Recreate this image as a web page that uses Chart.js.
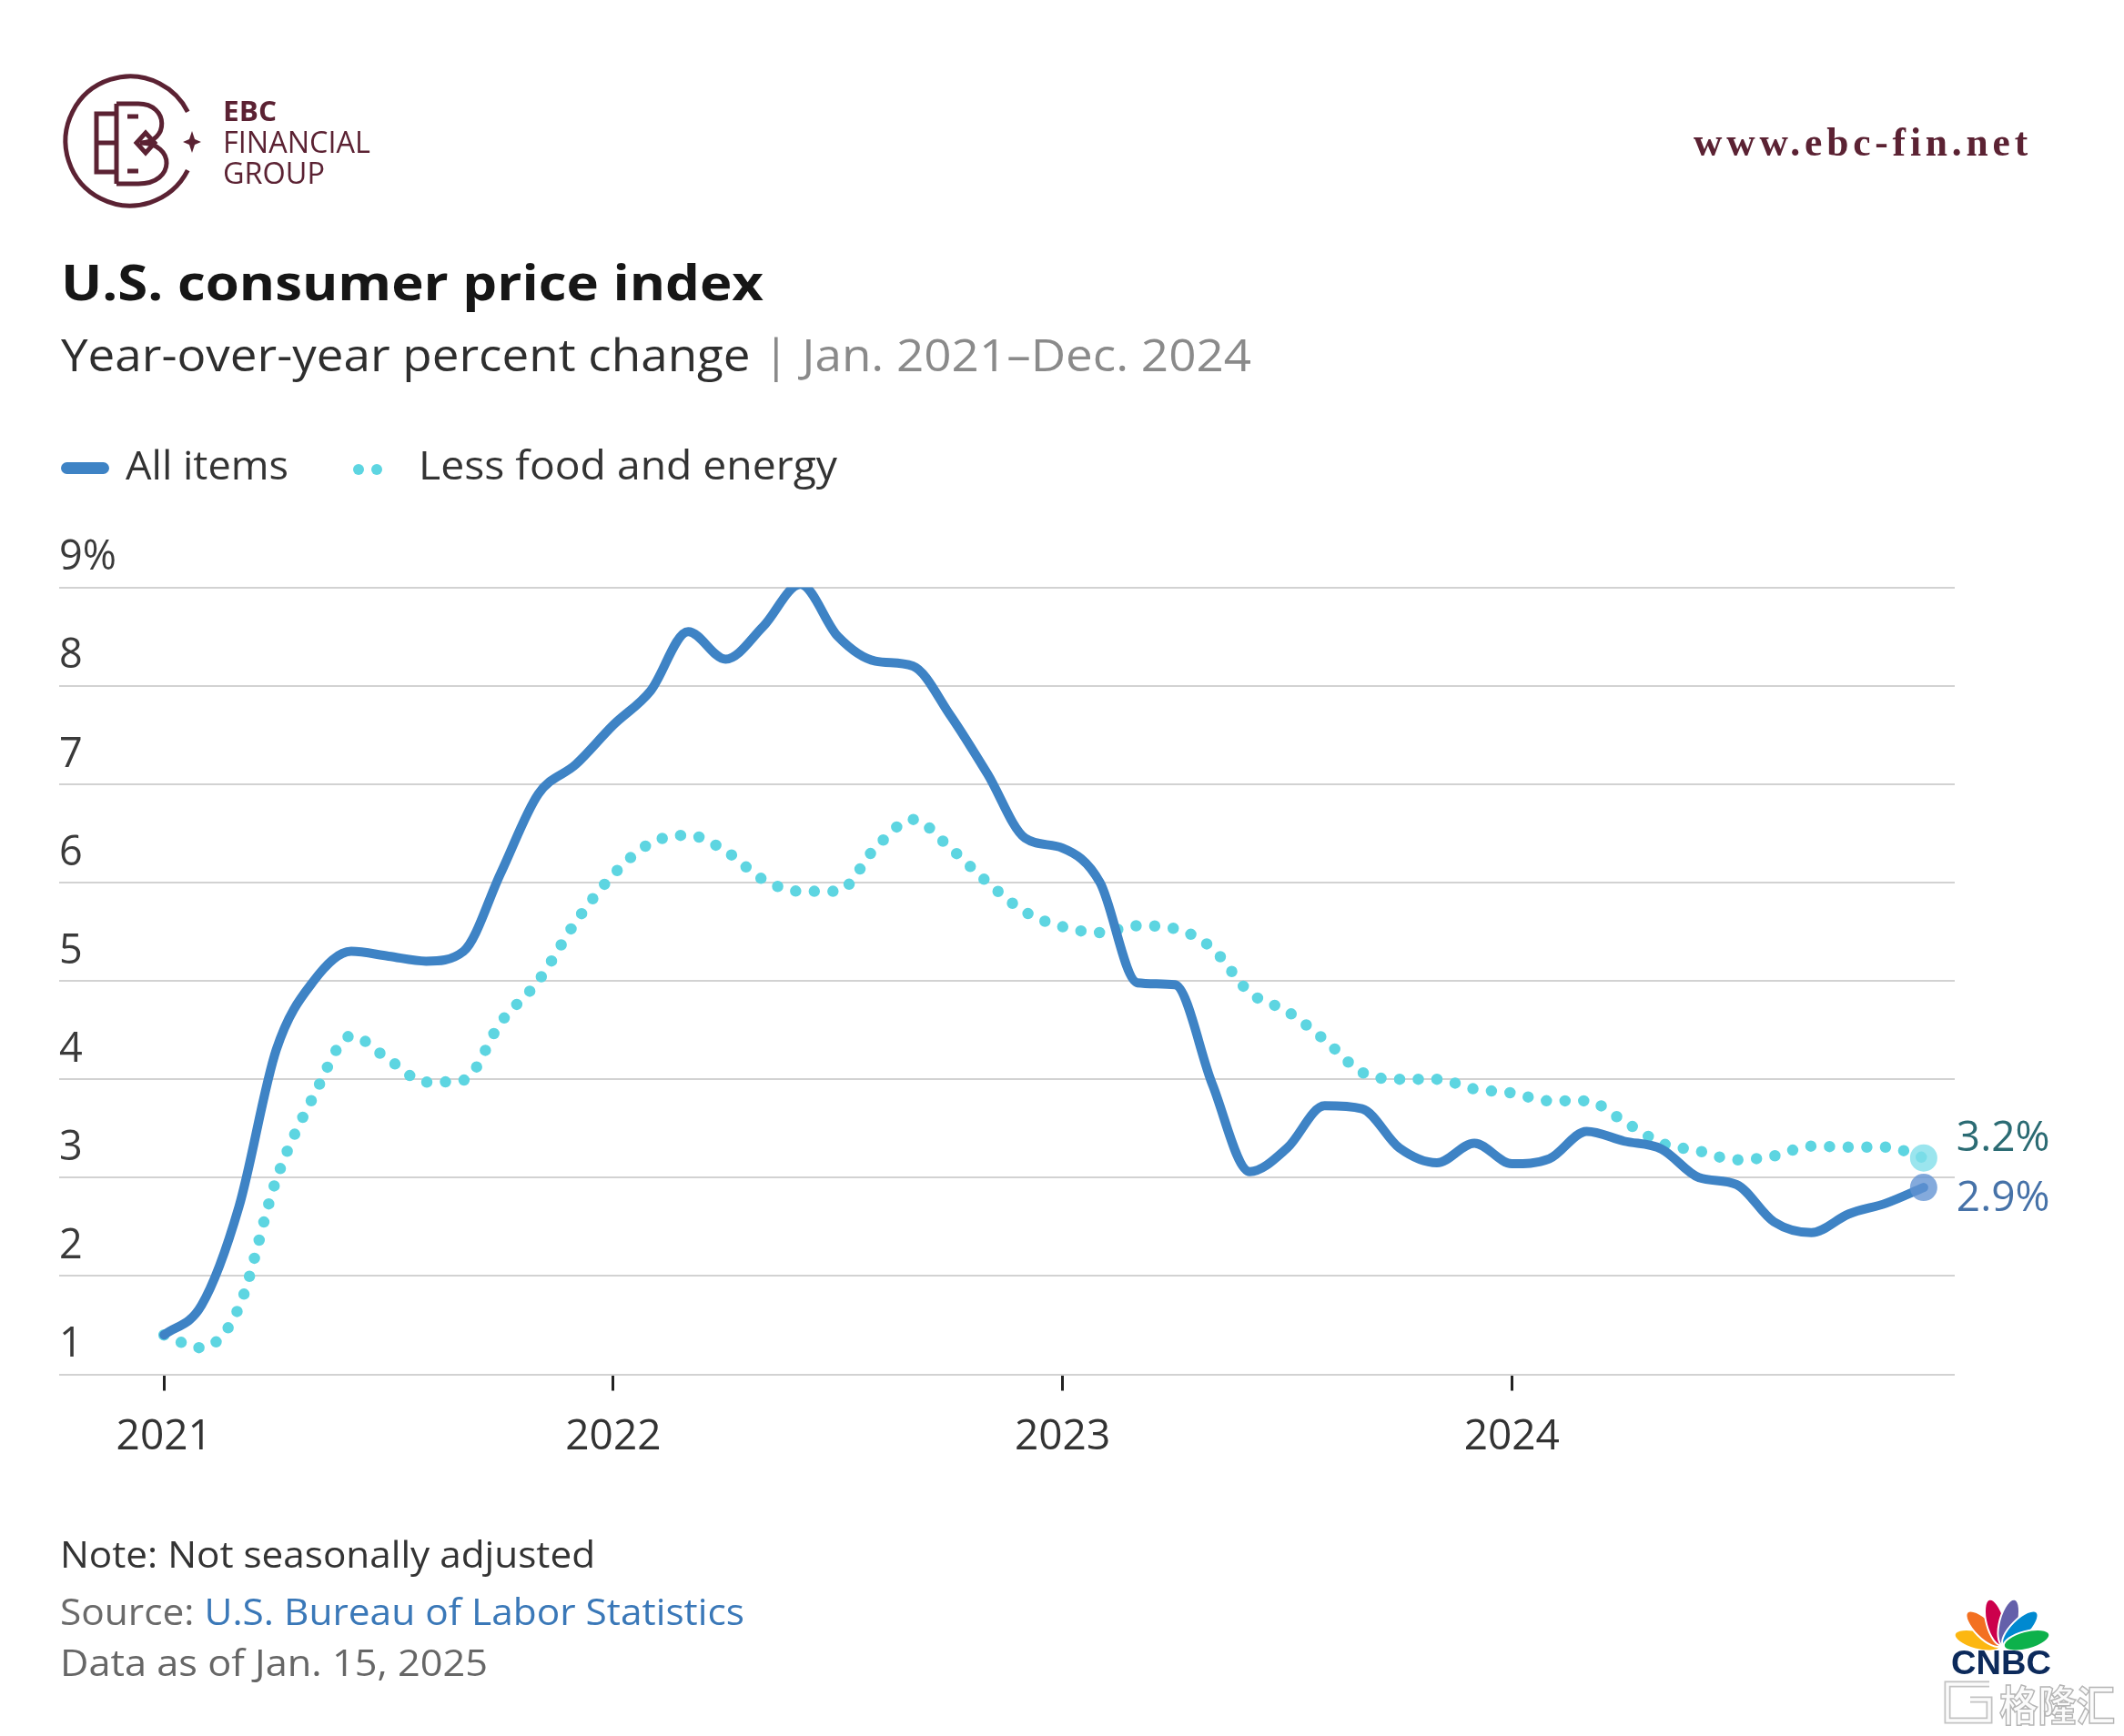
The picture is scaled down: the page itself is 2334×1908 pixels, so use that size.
<!DOCTYPE html>
<html>
<head>
<meta charset="utf-8">
<title>U.S. consumer price index</title>
<script src="https://cdn.jsdelivr.net/npm/chart.js@4.4.1/dist/chart.umd.min.js"></script>
<style>
  html, body { margin: 0; padding: 0; background: #fff; }
  #page { position: relative; width: 2334px; height: 1908px; overflow: hidden; background: #fff; }
  #deco, #cpiChart { position: absolute; left: 0; top: 0; }
  .t { position: absolute; left: 0; top: 0; white-space: nowrap; line-height: 1; transform-origin: 0 0; font-family: "Open Sans", sans-serif; }
  .maroon { color: #5b2233; }
  .dot { position: absolute; top: 510px; width: 12px; height: 12px; border-radius: 50%; background: #5dd5e1; }
</style>
</head>
<body>
<div id="page">
  <canvas id="deco" width="2334" height="1908"></canvas>
  <canvas id="cpiChart" width="2334" height="1908"></canvas>

  <div class="t maroon" id="ebc" style="font-size:30px;font-weight:700;">EBC</div>
  <div class="t maroon" id="fin" style="font-size:32px;">FINANCIAL</div>
  <div class="t maroon" id="grp" style="font-size:32px;">GROUP</div>
  <div class="t maroon" id="url" style="font-family:'Liberation Serif',serif;font-size:45px;font-weight:700;letter-spacing:5px;">www.ebc-fin.net</div>

  <div class="t" id="title" style="font-size:54px;font-weight:700;color:#161616;">U.S. consumer price index</div>
  <div class="t" id="sub" style="font-size:49px;color:#2e2e2e;">Year-over-year percent change <span style="color:#8a8a8a">| Jan. 2021–Dec. 2024</span></div>

  <!-- legend -->
  <div style="position:absolute;left:67px;top:508px;width:53px;height:13px;border-radius:7px;background:#3e83c5;"></div>
  <div class="t" id="legA" style="font-size:44px;color:#333;">All items</div>
  <div class="dot" style="left:388px;"></div>
  <div class="dot" style="left:408px;"></div>
  <div class="t" id="legB" style="font-size:44px;color:#333;">Less food and energy</div>

  <div class="t" id="note" style="font-size:41px;color:#333;">Note: Not seasonally adjusted</div>
  <div class="t" id="src" style="font-size:41px;color:#6a6a6a;">Source: <span style="color:#3a78b8">U.S. Bureau of Labor Statistics</span></div>
  <div class="t" id="asof" style="font-size:41px;color:#666;">Data as of Jan. 15, 2025</div>

  <div class="t" id="cnbc" style="font-family:'Liberation Sans',sans-serif;font-size:36px;font-weight:700;color:#0c2a5b;">CNBC</div>
  <div class="t" id="glh" style="font-family:'Noto Sans CJK SC',sans-serif;font-size:46px;font-weight:700;color:#fbfbfb;-webkit-text-stroke:1.5px #b5b5b5;">格隆汇</div>
</div>

<script>
// 資料 (月度, 2021-01 ~ 2024-12)
const monthLabels = [];
for (let y = 2021; y <= 2024; y++) {
  for (let m = 1; m <= 12; m++) monthLabels.push(y + '-' + m);
}
const allItems = [1.4, 1.7, 2.7, 4.3, 5.0, 5.3, 5.25, 5.2, 5.3, 6.1, 6.9, 7.2,
  7.6, 7.95, 8.55, 8.27, 8.6, 9.03, 8.5, 8.25, 8.2, 7.7, 7.1, 6.45,
  6.35, 6.0, 4.98, 4.96, 3.95, 3.06, 3.3, 3.73, 3.7, 3.3, 3.15, 3.35,
  3.14, 3.19, 3.47, 3.37, 3.29, 3.0, 2.93, 2.55, 2.44, 2.63, 2.74, 2.9];
const lessFoodEnergy = [1.4, 1.27, 1.68, 2.98, 3.83, 4.44, 4.2, 3.97, 3.99, 4.58, 5.0, 5.6,
  6.08, 6.4, 6.48, 6.32, 6.03, 5.91, 5.91, 6.35, 6.64, 6.35, 6.0, 5.7,
  5.55, 5.49, 5.56, 5.53, 5.33, 4.88, 4.69, 4.4, 4.07, 4.0, 4.0, 3.9,
  3.86, 3.78, 3.78, 3.57, 3.35, 3.27, 3.18, 3.22, 3.32, 3.31, 3.31, 3.2];
const yearTicks = [0, 12, 24, 36];
const yearLabels = ['2021', '2022', '2023', '2024'];
const yTicks = [1, 2, 3, 4, 5, 6, 7, 8, 9];
const yTickLabels = ['1', '2', '3', '4', '5', '6', '7', '8', '9%'];

const blue = '#3e83c5';
const cyan = '#5dd5e1';

// 線尾標籤
const endLabels = {
  id: 'endLabels',
  afterDatasetsDraw(chart) {
    const c = chart.ctx;
    const colors = ['#4672a8', '#2b6b73'];
    const dy = [13, -21];
    chart.data.datasets.forEach((ds, i) => {
      const meta = chart.getDatasetMeta(i);
      const pt = meta.data[meta.data.length - 1];
      const v = ds.data[ds.data.length - 1].y;
      c.save();
      c.font = '46px "Open Sans", sans-serif';
      c.fillStyle = colors[i];
      c.textBaseline = 'middle';
      c.textAlign = 'left';
      c.fillText(v.toFixed(1) + '%', pt.x + 36, pt.y + dy[i]);
      c.restore();
    });
  }
};

function lastOnly(r) {
  return c => c.dataIndex === c.dataset.data.length - 1 ? r : 0;
}

new Chart(document.getElementById('cpiChart'), {
  type: 'line',
  data: {
    labels: monthLabels,
    datasets: [{
      label: 'All items',
      data: allItems.map((v, i) => ({ x: i, y: v })),
      borderColor: blue,
      borderWidth: 10,
      borderCapStyle: 'round',
      borderJoinStyle: 'round',
      cubicInterpolationMode: 'monotone',
      pointRadius: lastOnly(15),
      pointHoverRadius: lastOnly(15),
      pointBorderWidth: 0,
      pointBackgroundColor: 'rgba(98,146,210,0.78)',
      fill: false
    }, {
      label: 'Less food and energy',
      data: lessFoodEnergy.map((v, i) => ({ x: i, y: v })),
      borderColor: cyan,
      borderWidth: 12.5,
      borderDash: [0, 20.5],
      borderCapStyle: 'round',
      cubicInterpolationMode: 'monotone',
      pointRadius: lastOnly(15),
      pointHoverRadius: lastOnly(15),
      pointBorderWidth: 0,
      pointBackgroundColor: 'rgba(130,222,234,0.8)',
      fill: false
    }]
  },
  options: {
    responsive: false,
    animation: false,
    events: [],
    layout: { padding: { left: 65, right: 186, top: 645.5, bottom: 276.3 } },
    plugins: { legend: { display: false }, tooltip: { enabled: false } },
    scales: {
      x: {
        type: 'linear',
        min: -2.8,
        max: 47.83,
        afterBuildTicks: s => { s.ticks = yearTicks.map(v => ({ value: v })); },
        ticks: {
          autoSkip: false,
          maxRotation: 0,
          padding: 24,
          color: '#333',
          font: { family: '"Open Sans", sans-serif', size: 46 },
          callback: (v, i) => yearLabels[i]
        },
        grid: { drawOnChartArea: false, drawTicks: true, tickLength: 18, color: '#222', lineWidth: 3 },
        border: { display: false }
      },
      y: {
        min: 1,
        max: 9,
        afterBuildTicks: s => { s.ticks = yTicks.map(v => ({ value: v })); },
        ticks: {
          mirror: true,
          padding: 0,
          crossAlign: 'near',
          labelOffset: -32,
          color: '#3a3a3a',
          font: { family: '"Open Sans", sans-serif', size: 45 },
          callback: (v, i) => yTickLabels[i]
        },
        grid: { color: '#d2d2d2', lineWidth: 2, drawTicks: false },
        border: { display: false }
      }
    }
  },
  plugins: [endLabels]
});

// logo 等裝飾
function drawDeco() {
  const c = document.getElementById('deco').getContext('2d');
  const maroon = '#5b2233';
  const rad = d => d * Math.PI / 180;
  c.strokeStyle = maroon;
  c.fillStyle = maroon;
  c.lineWidth = 5;
  c.lineJoin = 'miter';
  // 外圈
  c.beginPath();
  c.arc(143, 155, 71, rad(27), rad(333));
  c.stroke();
  // 星
  c.beginPath();
  c.moveTo(211, 144); c.lineTo(214, 153); c.lineTo(221, 156); c.lineTo(214, 159);
  c.lineTo(211, 168); c.lineTo(208, 159); c.lineTo(201, 156); c.lineTo(208, 153);
  c.closePath(); c.fill();
  // E
  c.beginPath();
  c.moveTo(130, 125); c.lineTo(106, 125); c.lineTo(106, 189); c.lineTo(130, 189);
  c.moveTo(106, 157); c.lineTo(126, 157);
  c.stroke();
  // B
  c.beginPath();
  c.moveTo(128, 114); c.lineTo(128, 202);
  c.moveTo(128, 114); c.lineTo(152, 114);
  c.bezierCurveTo(186, 114, 186, 157, 154, 157);
  c.bezierCurveTo(193, 157, 193, 202, 152, 202);
  c.lineTo(128, 202);
  c.moveTo(140, 128); c.lineTo(152, 128);
  c.moveTo(140, 188); c.lineTo(152, 188);
  c.stroke();
  // 菱形
  c.beginPath();
  c.moveTo(160, 146); c.lineTo(170, 157); c.lineTo(160, 168); c.lineTo(150, 157); c.closePath();
  c.stroke();

  // CNBC 孔雀
  const feathers = ['#fcb711', '#f37021', '#cc004c', '#6460aa', '#0089d0', '#0db14b'];
  feathers.forEach((col, i) => {
    const a = rad(180 - 15 - i * 30);
    c.save();
    c.translate(2200 + 28 * Math.cos(a), 1810 - 28 * Math.sin(a));
    c.rotate(-a);
    c.beginPath();
    c.ellipse(0, 0, 26, 10, 0, 0, Math.PI * 2);
    c.fillStyle = col;
    c.fill();
    c.strokeStyle = '#fff';
    c.lineWidth = 2;
    c.stroke();
    c.restore();
  });

  // 水印 G
  c.lineWidth = 7;
  c.strokeStyle = '#c2c2c2';
  c.beginPath();
  c.moveTo(2186, 1851); c.lineTo(2140, 1851); c.lineTo(2140, 1891); c.lineTo(2186, 1891);
  c.lineTo(2186, 1868); c.lineTo(2165, 1868);
  c.stroke();
  c.lineWidth = 3.5;
  c.strokeStyle = '#fbfbfb';
  c.stroke();
}
drawDeco();

// 文字定位: x, 基線, 寬度
function place(id, x, base, w) {
  const el = document.getElementById(id);
  const mark = document.createElement('span');
  mark.style.cssText = 'display:inline-block;width:0;height:0;vertical-align:baseline;';
  el.appendChild(mark);
  const off = mark.offsetTop;
  const width = el.getBoundingClientRect().width;
  el.style.left = x + 'px';
  el.style.top = (base - off) + 'px';
  el.style.transform = 'scaleX(' + (w / width) + ')';
}

function layoutText() {
  place('ebc', 245, 133, 59);
  place('fin', 245, 168, 162);
  place('grp', 245, 201.5, 112);
  place('url', 1861, 170.7, 372);
  place('title', 66.5, 330, 772);
  place('sub', 66.5, 408.3, 1308);
  place('legA', 138, 526.7, 179);
  place('legB', 459.6, 526.7, 460);
  place('note', 66, 1723.3, 588);
  place('src', 66, 1786, 752);
  place('asof', 66, 1841.7, 470);
  place('cnbc', 2144, 1840, 110);
  place('glh', 2197, 1891, 127);
}
if (document.fonts && document.fonts.ready) {
  document.fonts.ready.then(layoutText);
} else {
  layoutText();
}
</script>
</body>
</html>
